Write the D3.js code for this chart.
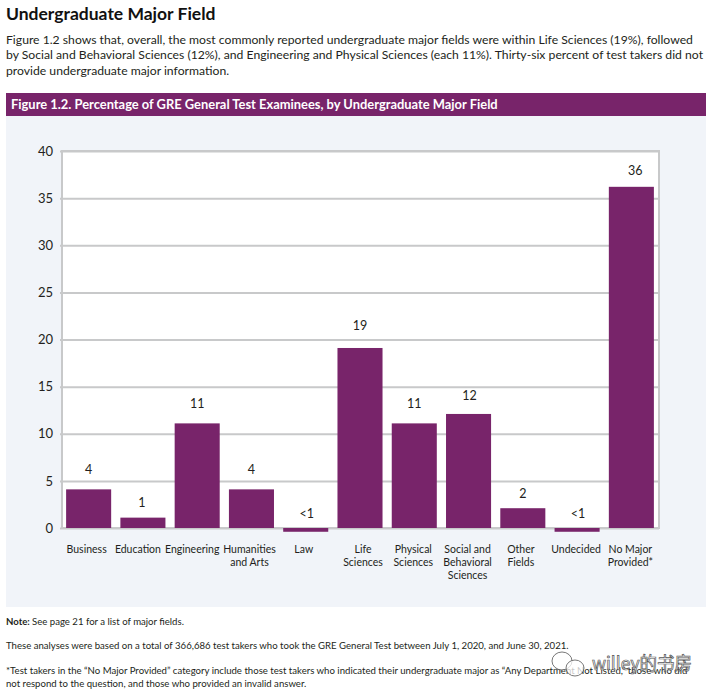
<!DOCTYPE html>
<html><head>
<meta charset="utf-8">
<script src="https://d3js.org/d3.v7.min.js"></script>
<style>
  html, body { margin: 0; padding: 0; background: #fff; }
  svg { display: block; }
  text { font-family: Lato, sans-serif; fill: #231f20; }
  .axis .domain { stroke: none; }
  .axis line { stroke: #c8c9ca; stroke-width: 2; }
</style>
</head>
<body>
<svg id="chart" width="712" height="697"></svg>
<script>
// data
const categories = ["Business", "Education", "Engineering", "Humanities|and Arts", "Law", "Life|Sciences",
  "Physical|Sciences", "Social and|Behavioral|Sciences", "Other|Fields", "Undecided", "No Major|Provided*"];
const barValues = [4.1, 1.1, 11.1, 4.1, -0.4, 19.1, 11.1, 12.1, 2.1, -0.4, 36.2];
const barLabels = ["4", "1", "11", "4", "<1", "19", "11", "12", "2", "<1", "36"];
const yTicks = [0, 5, 10, 15, 20, 25, 30, 35, 40];

// small hand adjustments so labels sit where they do in the print
const labelLift = [20, 15, 20, 20, 14, 22, 20, 18, 15, 14, 16];
const labelNudge = [0, -1, 0, 0, 1, 0, 0, 1, 0, 1, 4];
const tickNudge = [-2, -5, -5, -2, -2, 3, -1, -1, -2, -1, -1];

const purple = "#78246a";
const svg = d3.select("#chart");

function line(x, y, str, size, weight, color) {
  return svg.append("text")
    .attr("x", x).attr("y", y)
    .attr("font-size", size)
    .attr("font-weight", weight || 400)
    .style("fill", color || "#231f20")
    .text(str);
}

line(6, 20, "Undergraduate Major Field", 17.5, 700, "#111");
line(6, 44, "Figure 1.2 shows that, overall, the most commonly reported undergraduate major fields were within Life Sciences (19%), followed", 12.2);
line(6, 59, "by Social and Behavioral Sciences (12%), and Engineering and Physical Sciences (each 11%). Thirty-six percent of test takers did not", 12.2);
line(6, 75, "provide undergraduate major information.", 12.2);

// panel and header
svg.append("rect").attr("x", 6).attr("y", 93).attr("width", 700).attr("height", 514).attr("fill", "#f1f4f9");
svg.append("rect").attr("x", 6).attr("y", 93).attr("width", 700).attr("height", 23).attr("fill", purple);
line(11, 109, "Figure 1.2. Percentage of GRE General Test Examinees, by Undergraduate Major Field", 12.9, 700, "#fff");

// scales
const x = d3.scaleBand().domain(categories).range([61.5, 658.5]).paddingInner(0.17).paddingOuter(0.085);
const y = d3.scaleLinear().domain([0, 40]).range([528, 151]);

svg.append("rect").attr("x", 62).attr("y", y(40)).attr("width", 597).attr("height", y(0) - y(40))
  .attr("fill", "#fff").attr("stroke", "#c8c9ca").attr("stroke-width", 2);

// y axis with gridlines
const yAxis = svg.append("g").attr("class", "axis")
  .attr("transform", "translate(62,0)")
  .call(d3.axisLeft(y).tickValues(yTicks).tickSize(0).tickPadding(9));
yAxis.selectAll("line").attr("x1", -2).attr("x2", 597);
yAxis.selectAll("text").attr("font-size", 13).attr("font-family", "Lato, sans-serif").style("fill", "#231f20");

// bars
svg.selectAll("rect.bar").data(barValues).join("rect")
  .attr("class", "bar")
  .attr("x", (d, i) => x(categories[i]))
  .attr("width", x.bandwidth())
  .attr("y", d => y(Math.max(d, 0)))
  .attr("height", d => Math.abs(y(d) - y(0)))
  .attr("fill", purple);

// value labels
svg.selectAll("text.val").data(barLabels).join("text")
  .attr("class", "val")
  .attr("text-anchor", "middle")
  .attr("font-size", 12.5)
  .attr("x", (d, i) => x(categories[i]) + x.bandwidth() / 2 + labelNudge[i])
  .attr("y", (d, i) => y(Math.max(barValues[i], 0)) - labelLift[i])
  .attr("dy", "0.35em")
  .text(d => d);

// x axis, names split over lines
const xAxis = svg.append("g").attr("class", "axis")
  .attr("transform", "translate(0,528)")
  .call(d3.axisBottom(x).tickSize(0).tickPadding(0));
xAxis.selectAll("text").each(function (d, i) {
  const t = d3.select(this).text(null).attr("y", 0).attr("dy", null)
    .attr("font-size", 10.5).attr("font-family", "Lato, sans-serif")
    .style("fill", "#231f20");
  d.split("|").forEach((part, k) => {
    t.append("tspan").attr("x", tickNudge[i]).attr("y", 25 + k * 13).text(part);
  });
});

// notes
line(6, 625, "Note:", 9.6, 700);
line(32, 625, "See page 21 for a list of major fields.", 9.6);
line(6, 649, "These analyses were based on a total of 366,686 test takers who took the GRE General Test between July 1, 2020, and June 30, 2021.", 9.6);
line(6, 674, "*Test takers in the \u201cNo Major Provided\u201d category include those test takers who indicated their undergraduate major as \u201cAny Department Not Listed,\u201d those who did", 9.6);
line(6, 687, "not respond to the question, and those who provided an invalid answer.", 9.6);

// watermark
const mark = svg.append("g").attr("fill", "#fff").attr("fill-opacity", 0.75)
  .attr("stroke", "#555").attr("stroke-width", 0.8);
mark.append("ellipse").attr("cx", 562).attr("cy", 661).attr("rx", 10).attr("ry", 9);
mark.append("ellipse").attr("cx", 575).attr("cy", 668).attr("rx", 9).attr("ry", 8);
svg.append("text").attr("x", 592).attr("y", 670)
  .attr("font-size", 18)
  .attr("textLength", 100)
  .attr("lengthAdjust", "spacingAndGlyphs")
  .style("font-family", "'Noto Sans CJK SC', sans-serif")
  .style("fill", "#fff").style("fill-opacity", 0.75)
  .attr("stroke", "#555").attr("stroke-width", 0.7)
  .text("willey\u7684\u4e66\u623f");
</script>
</body></html>
